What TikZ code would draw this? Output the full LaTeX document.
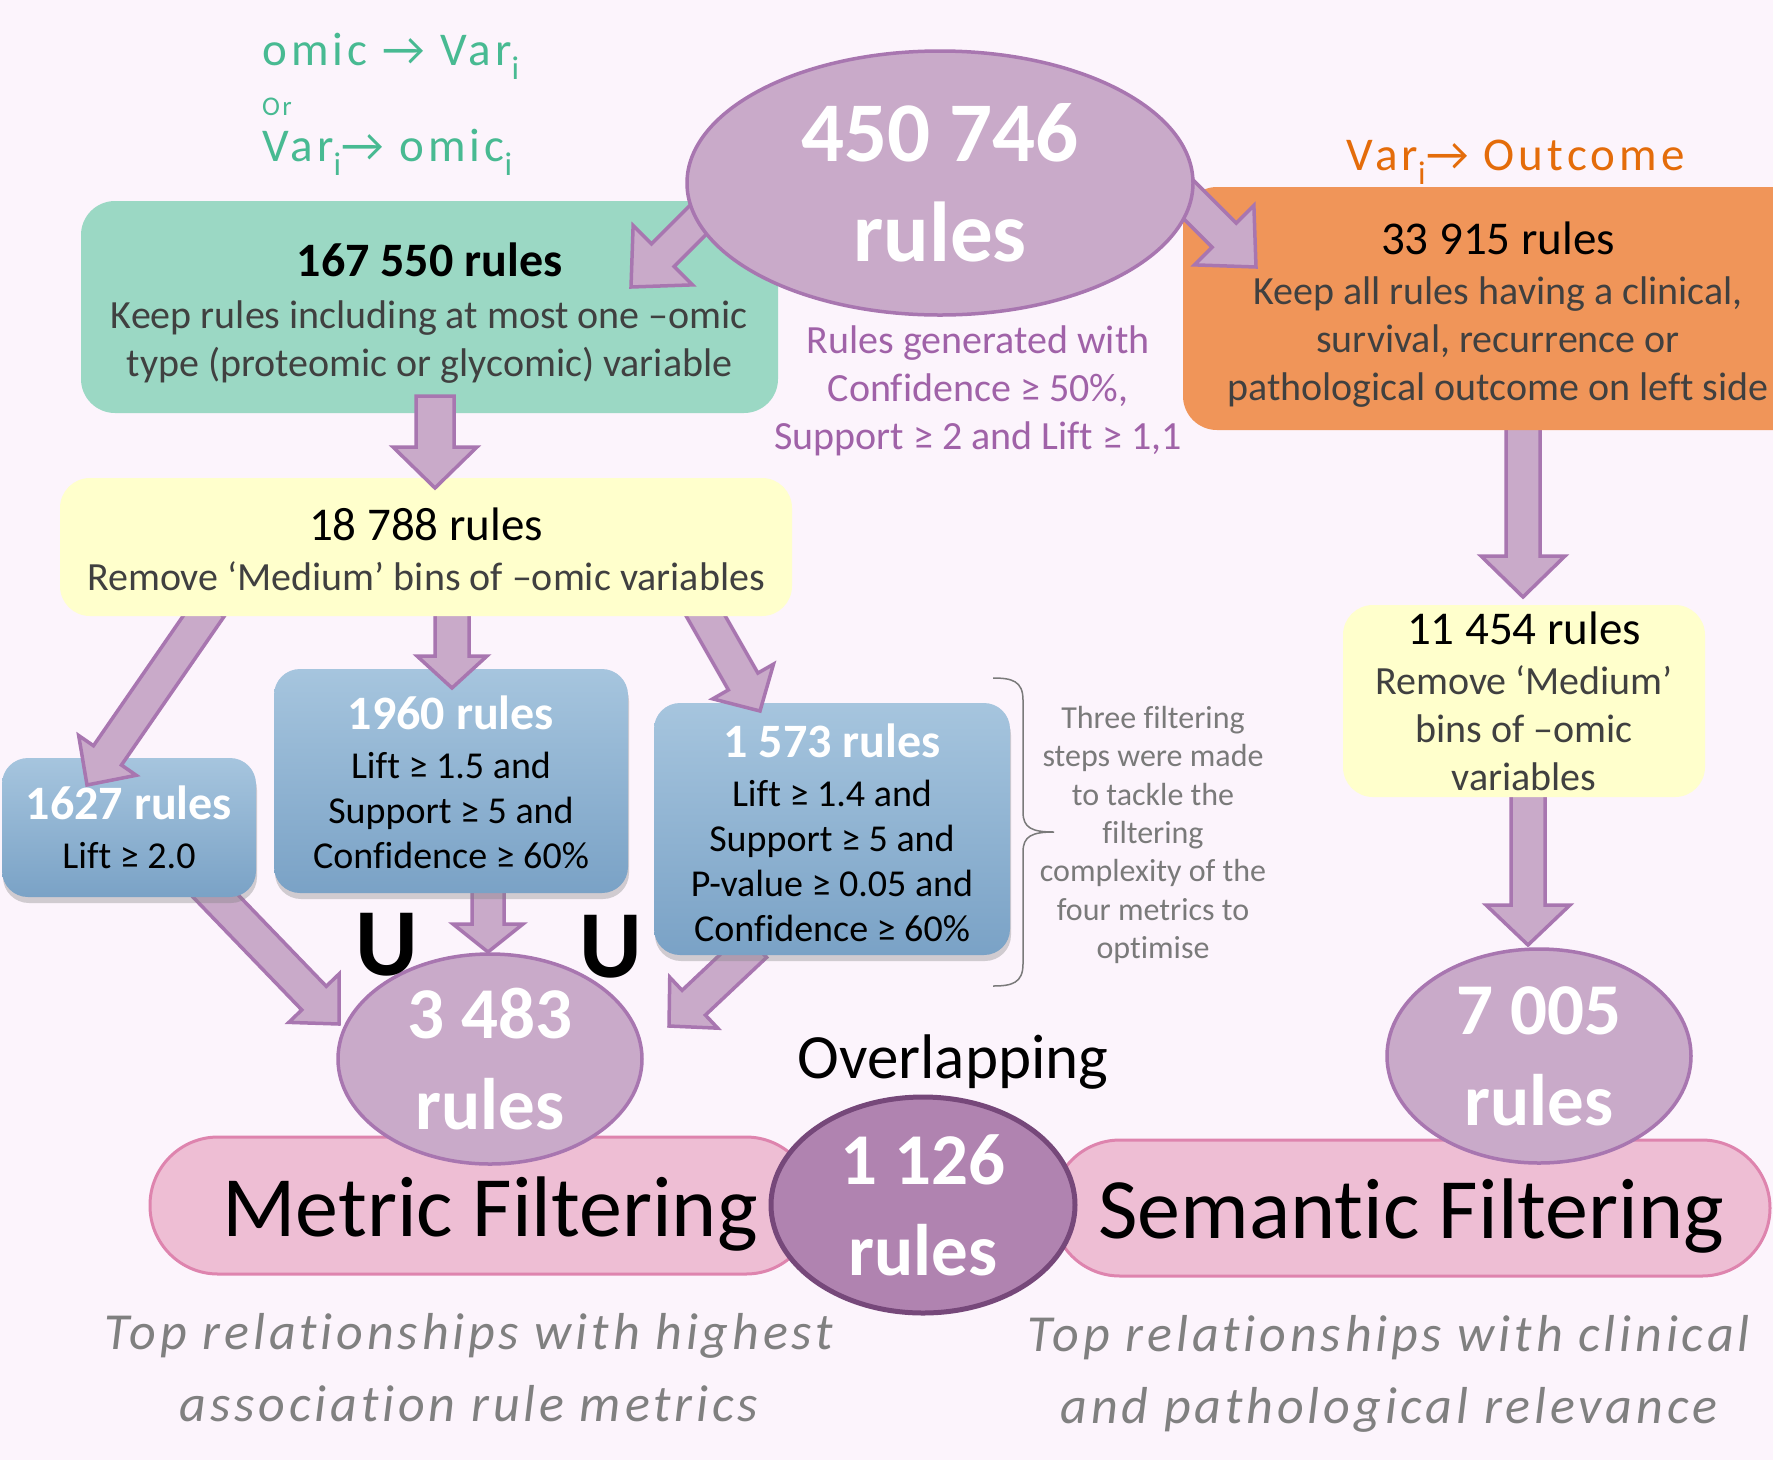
\documentclass[tikz,border=0pt]{standalone}
\usepackage{fontspec}
\setmainfont{Carlito}[Ligatures=CommonOff]
\usetikzlibrary{calc,shapes.geometric,shadows}

\definecolor{bgpink}{RGB}{252,244,252}
\definecolor{arrowfill}{RGB}{201,170,201}
\definecolor{arrowedge}{RGB}{168,118,176}
\definecolor{overlapfill}{RGB}{176,131,176}
\definecolor{overlapedge}{RGB}{118,72,122}
\definecolor{keepgreen}{RGB}{155,216,196}
\definecolor{clinorange}{RGB}{240,149,89}
\definecolor{binyellow}{RGB}{255,255,204}
\definecolor{bluetop}{RGB}{166,197,222}
\definecolor{bluebot}{RGB}{122,162,198}
\definecolor{barpink}{RGB}{238,190,212}
\definecolor{baredge}{RGB}{222,132,174}
\definecolor{bodygray}{RGB}{64,64,64}
\definecolor{notegray}{RGB}{122,122,122}
\definecolor{capgray}{RGB}{128,128,128}
\definecolor{genpurple}{RGB}{160,98,168}
\definecolor{hintgreen}{RGB}{72,186,146}
\definecolor{hintorange}{RGB}{228,108,10}

\tikzset{
  flowarrow/.style={draw=arrowedge, fill=arrowfill, line width=3.5pt, line join=miter},
  stepbox/.style={rectangle, rounded corners=34pt, inner sep=0pt, align=center, text=bodygray, font=\fontsize{40}{48}\selectfont},
  metricbox/.style={stepbox, rounded corners=26pt, top color=bluetop, bottom color=bluebot, text=black, font=\fontsize{38}{45}\selectfont, drop shadow={shadow xshift=1pt, shadow yshift=-6pt, opacity=.35}},
  countell/.style={ellipse, inner sep=0pt, draw=arrowedge, fill=arrowfill, line width=3.5pt, text=white, align=center, font=\bfseries\fontsize{73}{91}\selectfont},
  filterbar/.style={rectangle, rounded corners=68pt, draw=baredge, fill=barpink, line width=3pt, text depth=0pt, font=\fontsize{86}{90}\selectfont},
  hint/.style={anchor=west, inner sep=0pt, font=\fontsize{47}{50}\selectfont\addfontfeature{LetterSpace=9}},
  caption/.style={align=center, inner sep=0pt, text=capgray, font=\itshape\fontsize{52}{72}\selectfont\addfontfeature{LetterSpace=7.5}},
  notebrace/.style={draw=notegray, line width=1.5pt},
}

\newcommand\boxtitle[2][black]{{\color{#1}\bfseries\fontsize{48}{56}\selectfont #2}}
\newcommand\counttitle[1]{{\color{black}\fontsize{47}{56}\selectfont #1}}
\newcommand\toppad[1]{\rule{0pt}{#1}}
% from, to, shaft half width, head half width, head length
\newcommand\fatarrow[5]{%
  \path ($(#2)!#5!(#1)$) coordinate (headbase);
  \draw[flowarrow] ($(#1)!#3!90:(#2)$) -- ($(headbase)!#3!-90:(#1)$)
    -- ($(headbase)!#4!-90:(#1)$) -- (#2) -- ($(headbase)!#4!90:(#1)$)
    -- ($(headbase)!#3!90:(#1)$) -- ($(#1)!#3!-90:(#2)$) -- cycle;}

\begin{document}
\begin{tikzpicture}[x=1pt,y=-1pt]
\useasboundingbox (0,0) rectangle (1773,1460);
\fill[bgpink] (0,0) rectangle (1773,1460);

\node[hint, text=hintgreen] (omicvar) at (262,56) {omic → Var\textsubscript{i}};
\node[hint, text=hintgreen, font=\fontsize{27}{30}\selectfont\addfontfeature{LetterSpace=9}] (orword) at (262,107) {Or};
\node[hint, text=hintgreen] (varomic) at (262,152) {Var\textsubscript{i}→ omic\textsubscript{i}};
\node[hint, anchor=center, text=hintorange] (varout) at (1516,162) {Var\textsubscript{i}→ Outcome};

\coordinate (c1s) at (1523,425); \coordinate (c1e) at (1523,597);
\fatarrow{c1s}{c1e}{17pt}{42pt}{41pt}

\node[stepbox, fill=clinorange, minimum width=630, minimum height=243] (clin) at (1498,308.5)
  {\toppad{45pt}\counttitle{33 915 rules}\\[2pt]Keep all rules having a clinical,\\survival, recurrence or\\pathological outcome on left side};
\node[stepbox, fill=keepgreen, minimum width=697, minimum height=212] (keep) at (429.5,307)
  {\toppad{46pt}\boxtitle{167 550 rules}\\[4pt]Keep rules including at most one –omic\\type (proteomic or glycomic) variable};

\coordinate (g1s) at (715,203); \coordinate (g1e) at (631,287);
\coordinate (o1s) at (1170,181); \coordinate (o1e) at (1256,267);
\fatarrow{g1s}{g1e}{16pt}{42pt}{45pt}
\fatarrow{o1s}{o1e}{17pt}{42pt}{45pt}

\node[countell, minimum width=506, minimum height=264, font=\bfseries\fontsize{85}{100}\selectfont] (allrules) at (940,183) {450 746\\rules};
\node[align=center, inner sep=0pt, text=genpurple, font=\fontsize{40}{48}\selectfont] (gencap) at (978,391)
  {Rules generated with\\Confidence ≥ 50\%,\\Support ≥ 2 and Lift ≥ 1,1};

\coordinate (s1s) at (1528,790); \coordinate (s1e) at (1528,945);
\fatarrow{s1s}{s1e}{17pt}{42pt}{40pt}
\node[stepbox, fill=binyellow, minimum width=362, minimum height=192, rounded corners=30pt] (sembins) at (1524,701)
  {\counttitle{11 454 rules}\\[2pt]Remove ‘Medium’\\bins of –omic\\variables};

\coordinate (m1s) at (205,885); \coordinate (m1e) at (339,1024);
\coordinate (m2s) at (488,885); \coordinate (m2e) at (488,952);
\coordinate (m3s) at (755,945); \coordinate (m3e) at (669,1026);
\fatarrow{m1s}{m1e}{17pt}{35pt}{36pt}
\fatarrow{m2s}{m2e}{16pt}{35pt}{28pt}
\fatarrow{m3s}{m3e}{17pt}{35pt}{34pt}

\node[metricbox, minimum width=254, minimum height=139] (liftonly) at (129,827.5)
  {\boxtitle[white]{1627 rules}\\[4pt]Lift ≥ 2.0};
\node[metricbox, minimum width=354, minimum height=224] (liftsup) at (451,781)
  {\toppad{37pt}\boxtitle[white]{1960 rules}\\[4pt]Lift ≥ 1.5 and\\Support ≥ 5 and\\Confidence ≥ 60\%};
\node[metricbox, minimum width=356, minimum height=252] (liftpval) at (832,829)
  {\toppad{41pt}\boxtitle[white]{1 573 rules}\\[4pt]Lift ≥ 1.4 and\\Support ≥ 5 and\\P-value ≥ 0.05 and\\Confidence ≥ 60\%};

\coordinate (f1s) at (210,607); \coordinate (f1e) at (87,785);
\coordinate (f2s) at (452,605); \coordinate (f2e) at (452,688);
\coordinate (f3s) at (700,606); \coordinate (f3e) at (760,711);
\fatarrow{f1s}{f1e}{17pt}{35pt}{36pt}
\fatarrow{f2s}{f2e}{17pt}{35pt}{32pt}
\fatarrow{f3s}{f3e}{17pt}{35pt}{34pt}

\node[stepbox, fill=binyellow, minimum width=732, minimum height=138, rounded corners=30pt] (metricbins) at (426,547)
  {\toppad{37pt}\counttitle{18 788 rules}\\[2pt]Remove ‘Medium’ bins of –omic variables};

\coordinate (k1s) at (435,396); \coordinate (k1e) at (435,488);
\fatarrow{k1s}{k1e}{19pt}{42pt}{41pt}

\node[filterbar, minimum width=664, minimum height=137, text height=61pt] (metricbar) at (482,1205.5) {\hspace{16pt}Metric Filtering};
\node[filterbar, minimum width=718, minimum height=136, text height=61pt] (semanticbar) at (1411,1208) {Semantic Filtering};

\node[countell, minimum width=304, minimum height=210] (metricrules) at (490,1059) {3 483\\rules};
\node[countell, minimum width=304, minimum height=214] (semrules) at (1539,1056) {7 005\\rules};
\node[countell, fill=overlapfill, draw=overlapedge, line width=5pt, minimum width=304, minimum height=216] (overlaprules) at (923,1205) {1 126\\rules};

\node[font=\bfseries\fontsize{96}{100}\selectfont] (unionl) at (387,945) {U};
\node[font=\bfseries\fontsize{96}{100}\selectfont] (unionr) at (611,947) {U};
\node[inner sep=0pt, font=\fontsize{63}{70}\selectfont] (overlapword) at (953,1062) {Overlapping};

\draw[notebrace] (993,678) .. controls (1012,678) and (1023,681) .. (1023,700) -- (1023,812)
  .. controls (1023,828) and (1032,832) .. (1054,832) .. controls (1032,832) and (1023,836) .. (1023,852)
  -- (1023,964) .. controls (1023,983) and (1012,986) .. (993,986);
\node[align=center, inner sep=0pt, text=notegray, font=\fontsize{32}{38.4}\selectfont] (threenote) at (1153,835)
  {Three filtering\\steps were made\\to tackle the\\filtering\\complexity of the\\four metrics to\\optimise};

\node[caption] (metriccap) at (469,1368) {Top relationships with highest\\association rule metrics};
\node[caption] (semcap) at (1389,1374) {Top relationships with clinical\\and pathological relevance};
\end{tikzpicture}
\end{document}
